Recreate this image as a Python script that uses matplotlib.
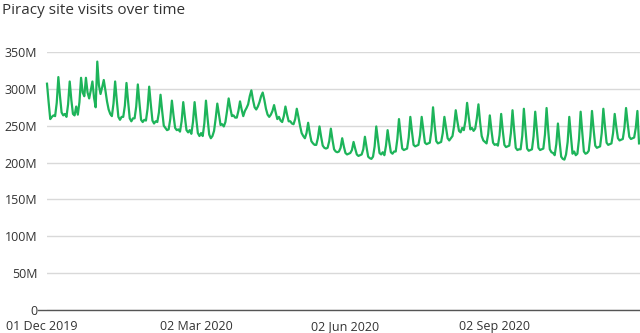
import matplotlib
matplotlib.use("Agg")
import matplotlib.pyplot as plt
import matplotlib.dates as mdates
import matplotlib.transforms as mtransforms
from matplotlib.lines import Line2D
import datetime as dt

plt.rcParams['font.family'] = ['Open Sans', 'DejaVu Sans']

title = "Piracy site visits over time"
start_date = dt.date(2019, 12, 1)

# daily visits in millions, one row per week (starting Sundays)
visits_m = [
    307, 282, 259, 262, 264, 263, 281,
    316, 290, 268, 264, 266, 262, 279,
    310, 285, 266, 264, 276, 265, 282,
    315, 295, 290, 315, 295, 287, 298,
    310, 288, 275, 337, 305, 293, 302,
    312, 298, 283, 272, 266, 263, 280,
    310, 285, 262, 258, 262, 262, 277,
    308, 283, 260, 256, 260, 260, 276,
    306, 281, 258, 255, 258, 257, 273,
    303, 279, 257, 253, 256, 255, 268,
    292, 270, 250, 247, 244, 245, 259,
    284, 264, 247, 244, 245, 242, 256,
    282, 262, 244, 241, 244, 239, 255,
    282, 260, 240, 236, 240, 236, 253,
    284, 260, 238, 233, 236, 243, 260,
    280, 265, 251, 252, 249, 255, 270,
    287, 274, 263, 264, 261, 261, 270,
    283, 272, 263, 270, 274, 279, 290,
    298, 285, 275, 272, 276, 282, 290,
    295, 285, 273, 265, 262, 265, 270,
    278, 268, 259, 262, 257, 255, 263,
    276, 265, 256, 256, 253, 252, 259,
    273, 262, 250, 240, 236, 233, 240,
    254, 240, 229, 226, 224, 224, 233,
    249, 235, 223, 220, 219, 220, 229,
    246, 231, 218, 215, 214, 215, 220,
    233, 222, 213, 211, 212, 213, 217,
    228, 219, 211, 209, 210, 211, 218,
    235, 221, 208, 206, 205, 208, 222,
    249, 231, 213, 211, 214, 210, 223,
    244, 228, 214, 212, 215, 215, 232,
    259, 238, 219, 217, 218, 219, 234,
    262, 242, 224, 222, 223, 224, 237,
    262, 244, 227, 225, 226, 227, 243,
    275, 250, 229, 226, 227, 228, 240,
    262, 247, 233, 230, 233, 236, 250,
    271, 256, 243, 241, 247, 244, 257,
    281, 262, 245, 247, 243, 246, 260,
    279, 255, 236, 230, 228, 226, 239,
    264, 244, 227, 224, 225, 223, 237,
    266, 243, 224, 221, 222, 223, 240,
    271, 244, 220, 217, 218, 218, 236,
    273, 245, 219, 216, 217, 218, 236,
    269, 244, 220, 217, 218, 219, 238,
    274, 244, 218, 214, 213, 210, 225,
    253, 229, 208, 205, 204, 211, 228,
    262, 236, 212, 215, 210, 212, 232,
    269, 241, 215, 212, 213, 216, 236,
    270, 245, 223, 220, 221, 222, 240,
    273, 249, 227, 224, 225, 226, 240,
    266, 248, 233, 230, 231, 232, 247,
    274, 253, 235, 232, 233, 234, 247,
    270, 226,
]

y_ticks = [0, 50, 100, 150, 200, 250, 300, 350]
y_tick_labels = ["0", "50M", "100M", "150M", "200M", "250M", "300M", "350M"]
x_tick_dates = [dt.date(2019, 12, 1), dt.date(2020, 3, 2), dt.date(2020, 6, 2), dt.date(2020, 9, 2)]
x_tick_labels = ["01 Dec 2019", "02 Mar 2020", "02 Jun 2020", "02 Sep 2020"]

dates = [start_date + dt.timedelta(days=i) for i in range(len(visits_m))]

fig = plt.figure(figsize=(6.4, 3.33), dpi=100)
ax = fig.add_axes([47/640, 23/333, 1 - 47/640, (310-52)/333])

ax.plot(dates, visits_m, color='#1db45a', lw=1.6, clip_on=False, zorder=3,
        solid_joinstyle='round')

ax.set_ylim(0, 350)
ax.set_xlim(mdates.date2num(start_date), mdates.date2num(start_date) + 365.6)
ax.set_yticks(y_ticks)
ax.set_yticklabels(y_tick_labels)
ax.set_xticks([mdates.date2num(d) for d in x_tick_dates])
ax.set_xticklabels(x_tick_labels)

ax.grid(axis='y', color='#d9d9d9', lw=1)
ax.grid(axis='x', visible=False)
ax.set_axisbelow(True)
for s in ['top', 'right', 'left', 'bottom']:
    ax.spines[s].set_visible(False)

# baseline extending slightly left of the plot area
fig.add_artist(Line2D([38/640, 1], [23/333, 23/333], transform=fig.transFigure,
                      color='#555555', lw=1.0, zorder=4))

ax.tick_params(axis='y', length=0, pad=7, labelsize=9, labelcolor='#333333')
ax.tick_params(axis='x', length=0, pad=7, labelsize=9, labelcolor='#333333')

first = ax.get_xticklabels()[0]
first.set_transform(first.get_transform() + mtransforms.ScaledTranslation(-5/100, 0, fig.dpi_scale_trans))

fig.text(2/640, 1 - 10/333, title, fontsize=11, color='#333333', va='center', ha='left')

fig.savefig("out.png", dpi=100)
